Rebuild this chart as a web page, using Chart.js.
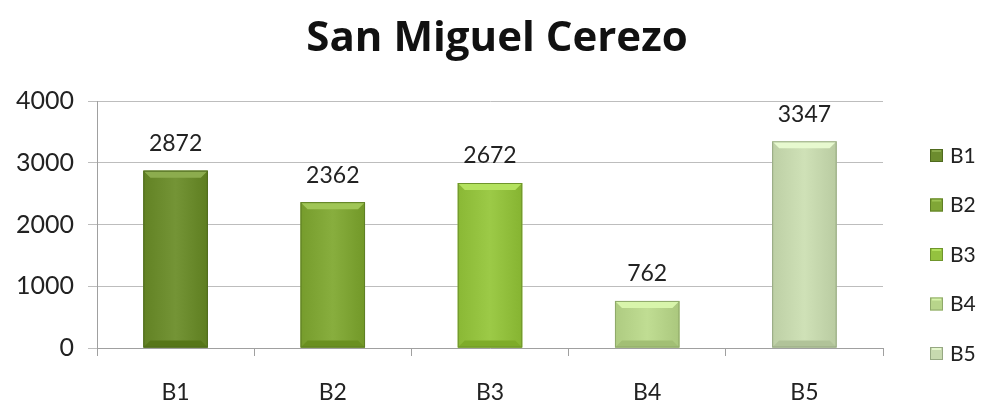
<!DOCTYPE html>
<html>
<head>
<meta charset="utf-8">
<script src="https://cdn.jsdelivr.net/npm/chart.js@4"></script>
<style>
    html, body { margin: 0; padding: 0; background: #ffffff; }
    #wrap { width: 982px; height: 405px; }
</style>
</head>
<body>
<div id="wrap"><canvas id="chart"></canvas></div>
<script>
const chartTitle = 'San Miguel Cerezo';
const categories = ['B1', 'B2', 'B3', 'B4', 'B5'];
const values = [2872, 2362, 2672, 762, 3347];
const yTicks = [0, 1000, 2000, 3000, 4000];
const barColors = ['#6c8c2e', '#80a636', '#94c23f', '#b8d58b', '#c7d9af'];
const edgeColors = ['#4f6a1e', '#5f7f25', '#6f952c', '#8fa96a', '#96a882'];

const FONT = 'Lato, "Open Sans", sans-serif';

function shade(hex, amt) {
    const n = parseInt(hex.slice(1), 16);
    let r = (n >> 16) + amt, g = ((n >> 8) & 255) + amt, b = (n & 255) + amt;
    r = Math.max(0, Math.min(255, r));
    g = Math.max(0, Math.min(255, g));
    b = Math.max(0, Math.min(255, b));
    return `rgb(${r},${g},${b})`;
}

// bevel look + value labels
const barDecor = {
    id: 'barDecor',
    afterDatasetsDraw(chart) {
        const ctx = chart.ctx;
        const meta = chart.getDatasetMeta(0);
        meta.data.forEach((bar, i) => {
            const left = bar.x - bar.width / 2;
            const right = bar.x + bar.width / 2;
            const top = bar.y;
            const bottom = bar.base;
            const b = 7;
            ctx.save();
            // soft horizontal gradient in the face
            const g = ctx.createLinearGradient(left, 0, right, 0);
            g.addColorStop(0, shade(barColors[i], -10));
            g.addColorStop(0.5, shade(barColors[i], 8));
            g.addColorStop(1, shade(barColors[i], -14));
            ctx.fillStyle = g;
            ctx.fillRect(left, top, bar.width, bottom - top);
            // top bevel
            ctx.fillStyle = shade(barColors[i], 32);
            ctx.beginPath();
            ctx.moveTo(left, top);
            ctx.lineTo(right, top);
            ctx.lineTo(right - b, top + b);
            ctx.lineTo(left + b, top + b);
            ctx.closePath();
            ctx.fill();
            // bottom bevel
            ctx.fillStyle = shade(barColors[i], -22);
            ctx.beginPath();
            ctx.moveTo(left, bottom);
            ctx.lineTo(right, bottom);
            ctx.lineTo(right - b, bottom - b);
            ctx.lineTo(left + b, bottom - b);
            ctx.closePath();
            ctx.fill();
            ctx.strokeStyle = edgeColors[i];
            ctx.lineWidth = 1;
            ctx.strokeRect(left + 0.5, top + 0.5, bar.width - 1, bottom - top - 1);

            // value label
            ctx.fillStyle = '#222222';
            ctx.font = '23px ' + FONT;
            ctx.textAlign = 'center';
            ctx.textBaseline = 'middle';
            ctx.fillText(values[i], bar.x, top - 27);
            ctx.restore();
        });
    }
};

// title and legend
const sideLegend = {
    id: 'sideLegend',
    afterDraw(chart) {
        const ctx = chart.ctx;
        ctx.save();
        ctx.fillStyle = '#111111';
        ctx.font = 'bold 42px "Open Sans", sans-serif';
        ctx.textAlign = 'center';
        ctx.textBaseline = 'middle';
        ctx.fillText(chartTitle, 497, 39);

        const x0 = 930;
        const y0 = 155;
        const step = 49.5;
        categories.forEach((c, i) => {
            const y = y0 + i * step;
            ctx.fillStyle = barColors[i];
            ctx.fillRect(x0, y - 6, 13, 13);
            ctx.fillStyle = shade(barColors[i], 30);
            ctx.fillRect(x0 + 2, y - 6, 9, 3);
            ctx.strokeStyle = edgeColors[i];
            ctx.lineWidth = 1;
            ctx.strokeRect(x0 + 0.5, y - 5.5, 12, 12);
            ctx.fillStyle = '#222222';
            ctx.font = '21px ' + FONT;
            ctx.textAlign = 'left';
            ctx.textBaseline = 'middle';
            ctx.fillText(c, x0 + 20, y + 1);
        });
        ctx.restore();
    }
};

new Chart(document.getElementById('chart'), {
    type: 'bar',
    data: {
        labels: categories,
        datasets: [{
            data: values,
            backgroundColor: barColors,
            borderWidth: 0,
            categoryPercentage: 1,
            barPercentage: 0.41
        }]
    },
    options: {
        responsive: true,
        maintainAspectRatio: false,
        animation: false,
        layout: { padding: { left: 10, right: 99, top: 101, bottom: 0 } },
        plugins: {
            legend: { display: false },
            tooltip: { enabled: false },
            title: { display: false }
        },
        scales: {
            x: {
                afterFit(scale) {
                    scale.height = 57;
                },
                grid: {
                    offset: true,
                    drawOnChartArea: false,
                    drawTicks: true,
                    tickLength: 8,
                    color: '#a0a0a0'
                },
                border: { color: '#a0a0a0', width: 1 },
                ticks: {
                    color: '#222222',
                    font: { family: FONT, size: 23 },
                    padding: 23
                }
            },
            y: {
                min: 0,
                max: 4000,
                afterBuildTicks(scale) {
                    scale.ticks = yTicks.map(v => ({ value: v }));
                },
                afterFit(scale) {
                    scale.width = 87;
                },
                grid: {
                    color: '#bdbdbd',
                    tickLength: 9
                },
                border: { color: '#a0a0a0', width: 1 },
                ticks: {
                    color: '#222222',
                    font: { family: FONT, size: 25 },
                    padding: 14,
                    callback: v => String(v)
                }
            }
        }
    },
    plugins: [barDecor, sideLegend]
});
</script>
</body>
</html>
